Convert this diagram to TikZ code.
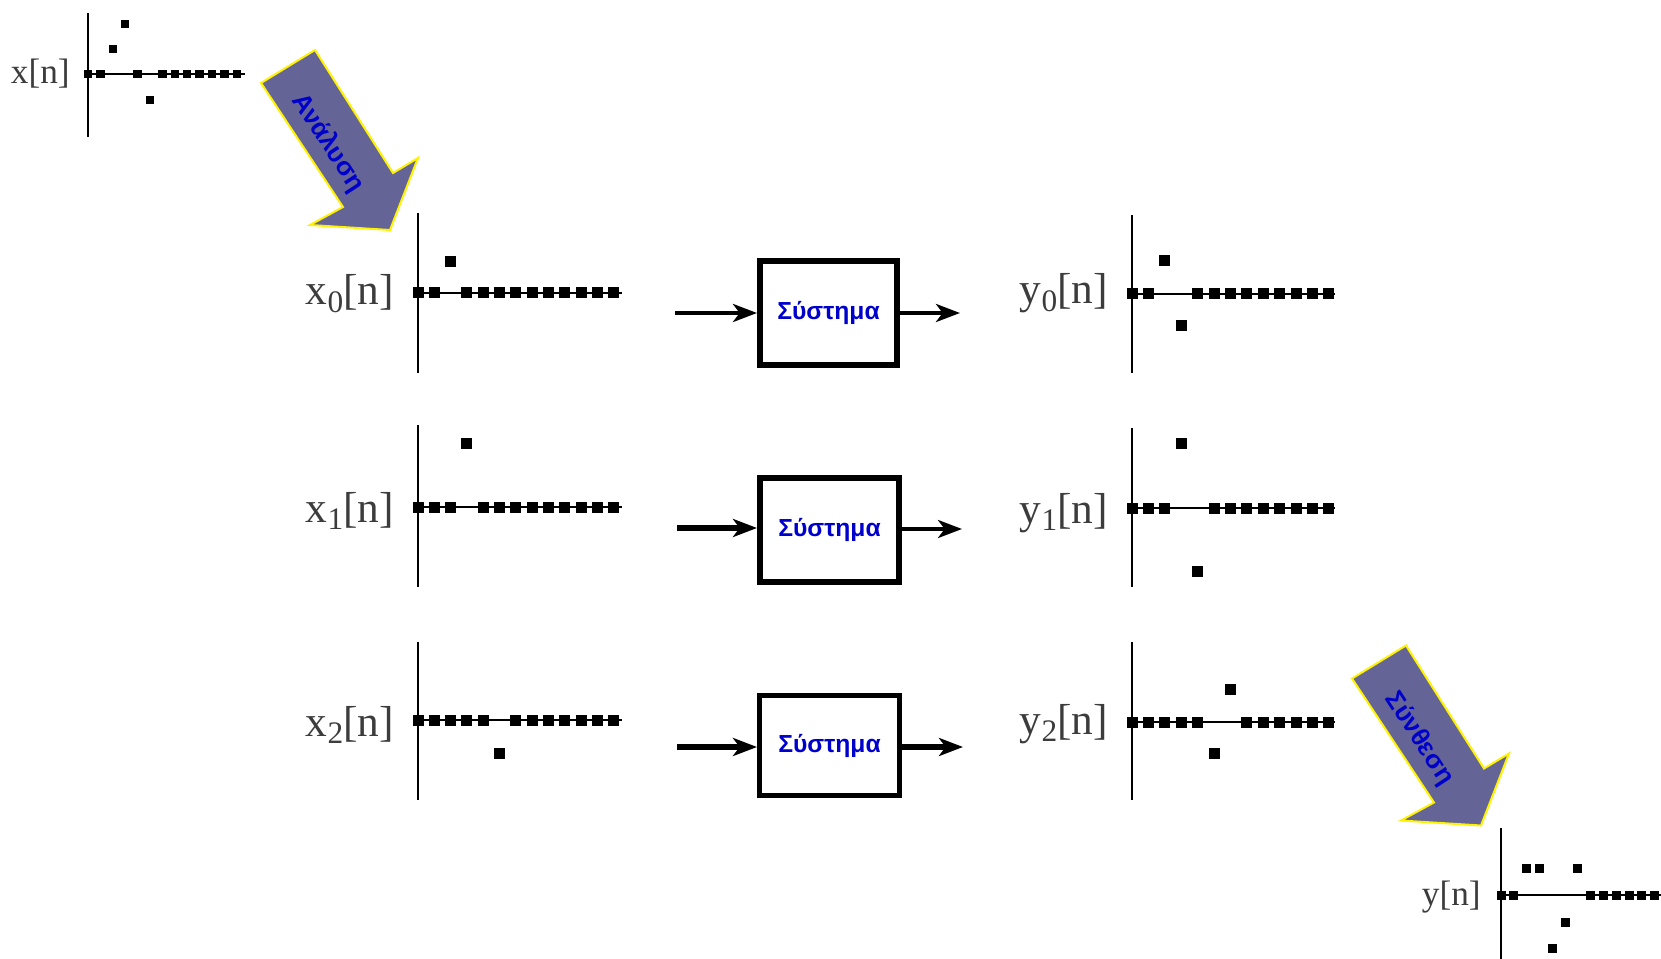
\documentclass[tikz,border=0pt]{standalone}
\usepackage{fontspec}
\setmainfont{Liberation Serif}
\newfontfamily\grsans{Liberation Sans}
\usetikzlibrary{arrows.meta}
\definecolor{arrowfill}{RGB}{100,100,150}
\definecolor{lblue}{RGB}{0,0,204}
\definecolor{labgray}{RGB}{60,60,60}
\newcommand\sbs[1]{\raisebox{-0.17em}{\fontsize{23.5pt}{23.5pt}\selectfont #1}}
\newcommand\samples[5]{\foreach \n/\v in {#5}{\fill ({#1+\n*#3-#4/2},{#2-(\v)-#4/2}) rectangle ++(#4,#4);}}
\begin{document}
\begin{tikzpicture}[x=0.75pt,y=-0.75pt,
  axisline/.style={line width=1.5pt,black},
  sig/.style={font=\fontsize{32.5pt}{33pt}\selectfont, text=labgray, anchor=base east, inner sep=0pt},
  sigsmall/.style={sig, font=\fontsize{26.5pt}{27pt}\selectfont},
  sysbox/.style={draw, line width=4.5pt, minimum width=102.75pt, minimum height=78pt, inner sep=0pt, font=\grsans\bfseries\fontsize{18.5pt}{18.5pt}\selectfont, text=lblue},
  conn/.style={line width=3pt, -{Stealth[length=18pt,width=13.5pt,inset=5pt]}},
  fat/.style={fill=arrowfill, draw=yellow, line width=1.5pt, line join=miter},
  fatlabel/.style={font=\grsans\bfseries\fontsize{19.5pt}{19.5pt}\selectfont, text=lblue, rotate=-57, inner sep=0pt}
]
\useasboundingbox (0,0) rectangle (1661,959);

% x[n]
\draw[axisline] (88,13) -- (88,137);
\draw[axisline] (85,74) -- (245,74);
\samples{88}{74}{12.4}{8.5}{0/0,1/0,2/25,3/50,4/0,5/-26,6/0,7/0,8/0,9/0,10/0,11/0,12/0}
\node[sigsmall] (lx) at (70,84) {x[n]};

% x0[n]
\draw[axisline] (418,213) -- (418,373);
\draw[axisline] (415,293) -- (622,293);
\samples{418}{293}{16.3}{11}{0/0,1/0,2/31,3/0,4/0,5/0,6/0,7/0,8/0,9/0,10/0,11/0,12/0}
\node[sig] (lx0) at (394,305) {x\sbs{0}[n]};

% x1[n]
\draw[axisline] (418,425) -- (418,587);
\draw[axisline] (415,507) -- (622,507);
\samples{418}{507}{16.3}{11}{0/0,1/0,2/0,3/64,4/0,5/0,6/0,7/0,8/0,9/0,10/0,11/0,12/0}
\node[sig] (lx1) at (394,522) {x\sbs{1}[n]};

% x2[n]
\draw[axisline] (418,642) -- (418,800);
\draw[axisline] (415,720) -- (622,720);
\samples{418}{720}{16.3}{11}{0/0,1/0,2/0,3/0,4/0,5/-33,6/0,7/0,8/0,9/0,10/0,11/0,12/0}
\node[sig] (lx2) at (394,736) {x\sbs{2}[n]};

% y0[n]
\draw[axisline] (1132,215) -- (1132,373);
\draw[axisline] (1129,294) -- (1335,294);
\samples{1132}{294}{16.4}{11}{0/0,1/0,2/33,3/-32,4/0,5/0,6/0,7/0,8/0,9/0,10/0,11/0,12/0}
\node[sig] (ly0) at (1108,304) {y\sbs{0}[n]};

% y1[n]
\draw[axisline] (1132,428) -- (1132,587);
\draw[axisline] (1129,508) -- (1335,508);
\samples{1132}{508}{16.4}{11}{0/0,1/0,2/0,3/65,4/-63,5/0,6/0,7/0,8/0,9/0,10/0,11/0,12/0}
\node[sig] (ly1) at (1108,523) {y\sbs{1}[n]};

% y2[n]
\draw[axisline] (1132,642) -- (1132,800);
\draw[axisline] (1129,722) -- (1335,722);
\samples{1132}{722}{16.4}{11}{0/0,1/0,2/0,3/0,4/0,5/-31,6/33,7/0,8/0,9/0,10/0,11/0,12/0}
\node[sig] (ly2) at (1108,734) {y\sbs{2}[n]};

% y[n]
\draw[axisline] (1501,828) -- (1501,959);
\draw[axisline] (1498,895) -- (1661,895);
\samples{1501}{895}{12.8}{9}{0/0,1/0,2/27,3/27,4/-53,5/-27,6/27,7/0,8/0,9/0,10/0,11/0,12/0}
\node[sigsmall] (ly) at (1481,905) {y[n]};

% systems
\node[sysbox] (s1) at (828.5,313) {Σύστημα};
\node[sysbox, minimum width=104.25pt] (s2) at (829.5,530) {Σύστημα};
\node[sysbox, line width=3.75pt, minimum width=105pt, minimum height=75pt] (s3) at (829.5,745.5) {Σύστημα};

\coordinate (i1) at (675,313); \coordinate (o1) at (960,313);
\coordinate (i2) at (677,528); \coordinate (o2) at (962,529);
\coordinate (i3) at (677,747); \coordinate (o3) at (963,747);
\draw[conn] (i1) -- (i1 -| s1.west);
\draw[conn] (o1 -| s1.east) -- (o1);
\draw[conn, line width=4.5pt] (i2) -- (i2 -| s2.west);
\draw[conn, line width=2.6pt] (o2 -| s2.east) -- (o2);
\draw[conn, line width=4.5pt] (i3) -- (i3 -| s3.west);
\draw[conn, line width=4.5pt] (o3 -| s3.east) -- (o3);

% fat arrows
\draw[fat] (261,83) -- (315,50) -- (393,173) -- (418,158) -- (390,230) -- (310,225) -- (343,207) -- cycle;
\node[fatlabel] (ana) at (328,143) {Ανάλυση};
\begin{scope}[shift={(1091,595.5)}]
\draw[fat] (261,83) -- (315,50) -- (393,173) -- (418,158) -- (390,230) -- (310,225) -- (343,207) -- cycle;
\end{scope}
\node[fatlabel] (syn) at (1419,738.5) {Σύνθεση};
\end{tikzpicture}
\end{document}
